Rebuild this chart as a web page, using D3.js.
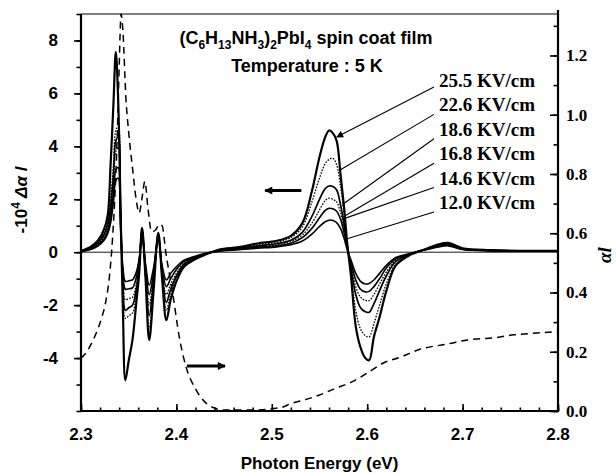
<!DOCTYPE html>
<html><head><meta charset="utf-8">
<script src="https://cdn.jsdelivr.net/npm/d3@7"></script>
<style>body{margin:0;background:#fff}svg{display:block}</style>
</head><body>
<script>
// ---------- DATA ----------
const energies=[2.300,2.310,2.318,2.324,2.328,2.331,2.334,2.3365,2.339,2.3415,2.344,2.3465,2.350,2.354,2.358,2.361,2.364,2.3675,2.3715,2.376,2.381,2.385,2.3895,2.394,2.400,2.408,2.418,2.430,2.445,2.465,2.485,2.505,2.520,2.532,2.542,2.550,2.556,2.560,2.564,2.568,2.572,2.576,2.579,2.583,2.588,2.593,2.598,2.602,2.607,2.613,2.620,2.630,2.645,2.660,2.675,2.685,2.700,2.730,2.760,2.800];
const fieldLabels=["25.5 KV/cm","22.6 KV/cm","18.6 KV/cm","16.8 KV/cm","14.6 KV/cm","12.0 KV/cm"];
const dA_255=[0.05,0.2,0.45,0.85,1.4,3.3,5.6,7.57,5.7,1.5,-2.3,-4.84,-4.1,-3.3,-1.9,-0.8,0.92,-0.9,-3.32,-1.5,0.73,-1.0,-2.57,-1.8,-1.1,-0.55,-0.3,-0.1,0.1,0.19,0.33,0.43,0.62,1.1,2.3,3.6,4.35,4.6,4.5,4.2,2.95,1.6,0.35,-0.9,-2.8,-3.6,-4.0,-4.08,-3.2,-2.45,-1.47,-0.5,-0.1,0.1,0.3,0.35,0.15,0.08,0.05,0.05];
const dA_226=[0.05,0.18,0.4,0.75,1.2,2.0,3.3,4.6,4.75,1.8,-1.4,-2.5,-2.4,-2.3,-1.6,-0.6,0.9,-0.8,-2.9,-1.3,0.72,-0.9,-2.2,-1.6,-1.0,-0.5,-0.28,-0.1,0.08,0.17,0.28,0.37,0.55,0.95,1.9,2.8,3.35,3.5,3.55,3.3,2.5,1.35,0.3,-0.75,-2.2,-2.9,-3.15,-3.2,-2.7,-2.0,-1.2,-0.45,-0.1,0.1,0.28,0.32,0.14,0.07,0.05,0.05];
const dA_186=[0.04,0.16,0.36,0.65,1.05,1.7,2.9,4.2,4.35,1.6,-1.2,-2.2,-2.1,-2.0,-1.4,-0.5,0.85,-0.7,-2.4,-1.1,0.68,-0.8,-1.9,-1.4,-0.9,-0.45,-0.25,-0.08,0.07,0.15,0.24,0.32,0.45,0.75,1.35,2.0,2.4,2.5,2.48,2.35,1.8,1.0,0.25,-0.6,-1.6,-2.1,-2.25,-2.27,-1.95,-1.45,-0.9,-0.35,-0.08,0.1,0.26,0.3,0.13,0.07,0.05,0.05];
const dA_168=[0.04,0.14,0.32,0.58,0.95,1.5,2.6,3.8,3.95,1.4,-1.0,-1.8,-1.75,-1.7,-1.2,-0.4,0.8,-0.6,-2.0,-0.95,0.62,-0.7,-1.6,-1.2,-0.8,-0.4,-0.22,-0.07,0.06,0.13,0.21,0.28,0.4,0.65,1.1,1.6,1.95,2.04,2.0,1.9,1.5,0.85,0.2,-0.5,-1.3,-1.7,-1.82,-1.83,-1.6,-1.2,-0.75,-0.3,-0.07,0.1,0.24,0.28,0.12,0.06,0.05,0.05];
const dA_146=[0.03,0.12,0.28,0.5,0.8,1.3,2.2,3.1,3.2,1.1,-0.8,-1.4,-1.38,-1.35,-0.95,-0.3,0.72,-0.5,-1.6,-0.8,0.55,-0.6,-1.3,-1.0,-0.65,-0.35,-0.2,-0.06,0.05,0.11,0.18,0.24,0.34,0.55,0.9,1.3,1.58,1.66,1.64,1.55,1.25,0.7,0.15,-0.4,-1.05,-1.4,-1.5,-1.48,-1.3,-1.0,-0.6,-0.25,-0.06,0.09,0.22,0.26,0.11,0.06,0.05,0.05];
const dA_120=[0.03,0.1,0.24,0.44,0.7,1.1,1.9,2.7,2.8,0.9,-0.6,-1.1,-1.08,-1.05,-0.75,-0.25,0.65,-0.4,-1.25,-0.6,0.5,-0.5,-1.05,-0.8,-0.55,-0.3,-0.17,-0.05,0.04,0.09,0.15,0.2,0.28,0.42,0.68,0.97,1.15,1.21,1.2,1.12,0.9,0.5,0.1,-0.3,-0.8,-1.1,-1.2,-1.18,-1.05,-0.8,-0.5,-0.2,-0.05,0.08,0.2,0.24,0.1,0.05,0.05,0.05];
const leaderEnergy=[2.566,2.569,2.572,2.573,2.572,2.576];
// absorbance (right axis)
const absEnergy=[2.300,2.306,2.312,2.318,2.322,2.326,2.330,2.333,2.336,2.338,2.340,2.342,2.344,2.347,2.350,2.354,2.358,2.361,2.364,2.367,2.370,2.374,2.378,2.382,2.385,2.389,2.396,2.403,2.410,2.420,2.430,2.440,2.450,2.480,2.510,2.520,2.537,2.550,2.568,2.585,2.600,2.617,2.635,2.656,2.684,2.705,2.733,2.754,2.782,2.800];
const absValue=[0.178,0.2,0.235,0.28,0.318,0.37,0.46,0.58,0.76,0.93,1.16,1.34,1.28,1.06,0.94,0.82,0.71,0.668,0.72,0.775,0.69,0.605,0.61,0.63,0.625,0.533,0.4,0.25,0.15,0.075,0.03,0.01,0.003,0.003,0.012,0.025,0.04,0.054,0.078,0.1,0.128,0.162,0.182,0.209,0.226,0.24,0.247,0.257,0.264,0.268];
const xTickLabels=[2.3,2.4,2.5,2.6,2.7,2.8];
const leftTickLabels=[-4,-2,0,2,4,6,8];
const rightTickLabels=[0.0,0.2,0.4,0.6,0.8,1.0,1.2];
// annotation arrows: [fromEnergy,toEnergy,value]
const leftArrow=[2.531,2.493,2.33];
const rightArrow=[2.411,2.451,0.152];

// ---------- LAYOUT ----------
const W=616,H=473,L=81,R=558,T=14,B=411;
const x=d3.scaleLinear().domain([2.3,2.8]).range([L,R]);
const yL=d3.scaleLinear().domain([-6,9]).range([B,T]);
const yR=d3.scaleLinear().domain([0,1.34]).range([B,T]);
const SANS="'Liberation Sans', Arial, sans-serif";
const SERIF="'Liberation Serif', 'Times New Roman', serif";

const svg=d3.select("body").append("svg").attr("width",W).attr("height",H);
const defs=svg.append("defs");
defs.append("clipPath").attr("id","clip").append("rect").attr("x",L).attr("y",T-8).attr("width",R-L).attr("height",B-T+8);
defs.append("marker").attr("id","ah").attr("viewBox","0 0 10 10").attr("refX",9).attr("refY",5)
  .attr("markerWidth",9).attr("markerHeight",7).attr("markerUnits","userSpaceOnUse").attr("orient","auto")
  .append("path").attr("d","M0,0L10,5L0,10z").attr("fill","#000");
defs.append("marker").attr("id","ahBig").attr("viewBox","0 0 10 10").attr("refX",9).attr("refY",5)
  .attr("markerWidth",12).attr("markerHeight",8).attr("markerUnits","userSpaceOnUse").attr("orient","auto")
  .append("path").attr("d","M0,0L10,5L0,10z").attr("fill","#000");

// zero line
svg.append("line").attr("x1",L).attr("x2",R).attr("y1",yL(0)).attr("y2",yL(0)).attr("stroke","#000").attr("stroke-width",0.9);

// frame top
svg.append("line").attr("x1",L).attr("x2",R).attr("y1",T).attr("y2",T).attr("stroke","#000").attr("stroke-width",1.2);

const g=svg.append("g").attr("clip-path","url(#clip)");
// absorbance dashed
const absLine=d3.line().x((d,i)=>x(absEnergy[i])).y(d=>yR(d)).curve(d3.curveMonotoneX);
g.append("path").attr("d",absLine(absValue)).attr("fill","none").attr("stroke","#000")
  .attr("stroke-width",1.5).attr("stroke-dasharray","7,5");

// ΔA curves
const series=[dA_255,dA_226,dA_186,dA_168,dA_146,dA_120];
const styles=[{w:2.2,d:null},{w:1.3,d:"1.6,1.4"},{w:1.7,d:null},{w:1.3,d:"1.6,1.4"},{w:1.6,d:null},{w:1.6,d:null}];
const dLine=d3.line().x((d,i)=>x(energies[i])).y(d=>yL(d)).curve(d3.curveCatmullRom.alpha(0.5));
series.slice().reverse().forEach((s,ri)=>{
  const k=series.length-1-ri;
  g.append("path").attr("d",dLine(s)).attr("fill","none").attr("stroke","#000")
   .attr("stroke-width",styles[k].w).attr("stroke-dasharray",styles[k].d).attr("stroke-linejoin","round");
});

// axes
const ax=svg.append("g");
const xMinor=d3.range(2.30,2.8001,0.02).map(v=>+v.toFixed(2));
ax.append("g").attr("transform",`translate(0,${B})`).call(d3.axisBottom(x).tickValues(xMinor).tickSize(-3.5).tickFormat(""));
ax.append("g").attr("transform",`translate(0,${B})`).call(d3.axisBottom(x).tickValues(xTickLabels).tickSize(-7).tickFormat(""));
ax.append("g").attr("transform",`translate(${L},0)`).call(d3.axisLeft(yL).tickValues(d3.range(-6,10,1)).tickSize(4.5).tickFormat(""));
ax.append("g").attr("transform",`translate(${L},0)`).call(d3.axisLeft(yL).tickValues(leftTickLabels).tickSize(7).tickFormat(""));
ax.append("g").attr("transform",`translate(${R},0)`).call(d3.axisRight(yR).tickValues(d3.range(0,1.31,0.1).map(v=>+v.toFixed(1))).tickSize(-4.5).tickFormat(""));
ax.append("g").attr("transform",`translate(${R},0)`).call(d3.axisRight(yR).tickValues(rightTickLabels).tickSize(-8).tickFormat(""));
ax.selectAll(".domain").remove();
ax.selectAll(".tick line").attr("stroke","#000").attr("stroke-width",1.6);
// axis lines
svg.append("line").attr("x1",L).attr("x2",L).attr("y1",T).attr("y2",B+1).attr("stroke","#000").attr("stroke-width",2.2);
svg.append("line").attr("x1",L-1).attr("x2",R+1).attr("y1",B).attr("y2",B).attr("stroke","#000").attr("stroke-width",2.2);
svg.append("line").attr("x1",R).attr("x2",R).attr("y1",T-4).attr("y2",B+1).attr("stroke","#000").attr("stroke-width",2.2);

// tick labels
svg.append("g").selectAll("text").data(xTickLabels).join("text")
  .attr("x",d=>x(d)).attr("y",B+29).attr("text-anchor","middle")
  .attr("font-family",SANS).attr("font-weight","bold").attr("font-size",17).text(d=>d.toFixed(1));
svg.append("g").selectAll("text").data(leftTickLabels).join("text")
  .attr("x",L-23).attr("y",d=>yL(d)+6).attr("text-anchor","end")
  .attr("font-family",SANS).attr("font-weight","bold").attr("font-size",17).text(d=>String(d));
svg.append("g").selectAll("text").data(rightTickLabels).join("text")
  .attr("x",R+8).attr("y",d=>yR(d)+6).attr("text-anchor","start")
  .attr("font-family",SERIF).attr("font-weight","bold").attr("font-size",17).text(d=>d.toFixed(1));

// axis titles
svg.append("text").attr("x",(L+R)/2).attr("y",469).attr("text-anchor","middle")
  .attr("font-family",SANS).attr("font-weight","bold").attr("font-size",17).text("Photon Energy (eV)");
const yt=svg.append("text").attr("transform","translate(27,200) rotate(-90)").attr("text-anchor","middle")
  .attr("font-family",SANS).attr("font-weight","bold").attr("font-size",17);
yt.append("tspan").text("-10");
yt.append("tspan").attr("dy",-7).attr("font-size",12).text("4");
yt.append("tspan").attr("dy",7).attr("font-style","italic").text(" Δα l");
svg.append("text").attr("transform","translate(611,255) rotate(-90)").attr("text-anchor","middle")
  .attr("font-family",SERIF).attr("font-weight","bold").attr("font-style","italic").attr("font-size",19).text("αl");

// title
const t1=svg.append("text").attr("x",306).attr("y",44).attr("text-anchor","middle")
  .attr("font-family",SANS).attr("font-weight","bold").attr("font-size",18);
[["(C",0],["6",1],["H",0],["13",1],["NH",0],["3",1],[")",0],["2",1],["PbI",0],["4",1],[" spin coat film",0]].forEach(([s,sub],i,arr)=>{
  const prev=i>0?arr[i-1][1]:0;
  const ts=t1.append("tspan").text(s);
  if(sub&&!prev) ts.attr("dy",5).attr("font-size",12);
  else if(!sub&&prev) ts.attr("dy",-5);
  else if(sub) ts.attr("font-size",12);
});
svg.append("text").attr("x",307).attr("y",72).attr("text-anchor","middle")
  .attr("font-family",SANS).attr("font-weight","bold").attr("font-size",18).text("Temperature : 5 K");

// field labels and leader lines
const labelX=439, labelY0=87, labelDy=24.4;
fieldLabels.forEach((lab,k)=>{
  const by=labelY0+k*labelDy;
  svg.append("text").attr("x",labelX).attr("y",by).attr("font-family",SERIF).attr("font-weight","bold")
    .attr("font-size",19).text(lab);
  const e=leaderEnergy[k];
  const i=d3.bisectLeft(energies,e);
  const t=(e-energies[i-1])/(energies[i]-energies[i-1]);
  const v=series[k][i-1]+(series[k][i]-series[k][i-1])*t;
  svg.append("line").attr("x1",labelX-5).attr("y1",by+(k===0?0:3)).attr("x2",x(e)+2).attr("y2",yL(v))
    .attr("stroke","#000").attr("stroke-width",1.1).attr("marker-end",k===0?"url(#ah)":null);
});

// arrows
svg.append("line").attr("x1",x(leftArrow[0])).attr("x2",x(leftArrow[1])).attr("y1",yL(leftArrow[2])).attr("y2",yL(leftArrow[2]))
  .attr("stroke","#000").attr("stroke-width",3).attr("marker-end","url(#ahBig)");
svg.append("line").attr("x1",x(rightArrow[0])).attr("x2",x(rightArrow[1])).attr("y1",yR(rightArrow[2])).attr("y2",yR(rightArrow[2]))
  .attr("stroke","#000").attr("stroke-width",3).attr("marker-end","url(#ahBig)");
</script>
</body></html>
